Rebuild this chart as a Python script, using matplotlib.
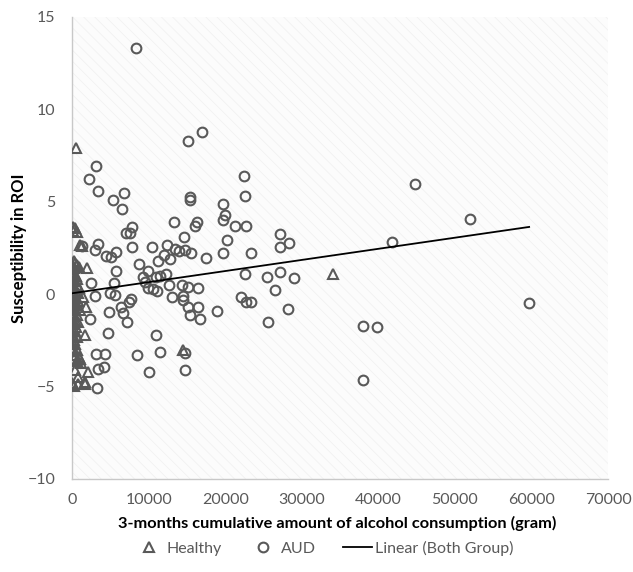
import matplotlib
matplotlib.use("Agg")
import matplotlib.pyplot as plt
from matplotlib.patches import Rectangle
from matplotlib.lines import Line2D

plt.rcParams['font.family'] = ['Lato', 'DejaVu Sans']

# Healthy group (triangles)
healthy_x = [550, 80, 400, 150, 700, 1300, 1000, 200, 400, 600, 100, 300, 900, 1990,
             50, 250, 500, 150, 700, 350, 50, 600, 200, 900, 100, 450, 750, 0, 300, 550,
             100, 800, 250, 650, 50, 400, 1000, 150, 600, 300, 0, 450, 800, 200, 550, 50,
             350, 1420, 1860, 1730, 100, 600, 250, 0, 450, 150, 700, 50, 350, 900, 200,
             600, 980, 1200, 330, 2080, 760, 1640, 0, 240, 720, 1680, 14540, 34100]
healthy_y = [7.93, 3.65, 3.6, 3.4, 3.35, 2.6, 2.65, 1.8, 1.7, 1.6, 1.5, 1.4, 1.45, 1.4,
             1.2, 1.1, 1.0, 0.9, 0.8, 0.7, 0.6, 0.5, 0.4, 0.35, 0.2, 0.15, 0.05, 0.0, -0.1, -0.2,
             -0.3, -0.35, -0.5, -0.6, -0.7, -0.8, -0.85, -1.0, -1.1, -1.2, -1.3, -1.4, -1.5, -1.6, -1.75, -1.9,
             -2.0, -0.14, -0.71, -2.21, -2.2, -2.3, -2.5, -2.6, -2.7, -2.9, -3.0, -3.1, -3.3, -3.4, -3.5,
             -3.6, -3.52, -3.74, -4.1, -4.19, -4.46, -4.73, -4.82, -4.97, -4.86, -4.86, -3.02, 1.09]

# AUD group (circles)
aud_x = [8300, 17000, 15150, 3080, 2200, 3390, 5350, 6850, 22500, 22640, 15420, 15420,
         6500, 19660, 19970, 19700, 21330, 22730, 20230, 13280, 16380, 16080, 14630,
         7900, 7550, 7020, 7900, 3390, 2990, 4490, 5050, 5710, 10390, 12400, 13450,
         13980, 14800, 15510, 12050, 12830, 11260, 17520, 19710, 23430, 27140, 28320,
         27100, 5710, 8770, 9910, 9300, 10920, 11480, 12270, 2520, 5450, 9510, 9870,
         10520, 11090, 12660, 14370, 15160, 16430, 22550, 25480, 27140, 28980, 26570,
         2950, 5010, 5580, 13060, 14540, 14460, 7770, 7460, 22020, 22770, 23390, 15120,
         16430, 15380, 16730, 18920, 28240, 25570, 6360, 6670, 7240, 4790, 2340, 4750,
         10920, 8460, 11480, 14760, 3180, 4270, 3390, 4170, 10000, 14800, 3250,
         44860, 52030, 41800, 59690, 37990, 39870, 37990, 1300]
aud_y = [13.3, 8.79, 8.29, 6.93, 6.23, 5.6, 5.1, 5.49, 6.41, 5.31, 5.28, 5.12,
         4.61, 4.88, 4.29, 4.02, 3.69, 3.69, 2.93, 3.89, 3.92, 3.71, 3.11,
         3.65, 3.29, 3.29, 2.54, 2.7, 2.39, 2.07, 2.0, 2.3, 2.54, 2.66, 2.43,
         2.34, 2.39, 2.25, 2.12, 1.89, 1.81, 1.98, 2.21, 2.25, 3.24, 2.79,
         2.54, 1.26, 1.62, 1.26, 0.91, 0.95, 1.0, 1.09, 0.59, 0.59, 0.68, 0.32,
         0.27, 0.19, 0.5, 0.5, 0.41, 0.32, 1.09, 0.95, 1.22, 0.86, 0.23,
         -0.1, 0.05, -0.04, -0.14, -0.08, -0.31, -0.24, -0.42, -0.17, -0.44, -0.44, -0.71,
         -0.68, -1.13, -1.34, -0.91, -0.78, -1.49, -0.68, -1.03, -1.49, -0.98, -1.36, -2.12,
         -2.19, -3.31, -3.14, -3.2, -3.25, -3.24, -4.05, -3.92, -4.19, -4.1, -5.06,
         5.98, 4.05, 2.84, -0.46, -1.7, -1.78, -4.64, 2.6]

# Linear trend (both groups), endpoints
trend_x = [0, 59700]
trend_y = [0.05, 3.64]

x_ticks = [0, 10000, 20000, 30000, 40000, 50000, 60000, 70000]
y_ticks = [-10, -5, 0, 5, 10, 15]

gray = '#595959'
W, H = 633, 572

fig = plt.figure(figsize=(6.33, 5.72), dpi=100)
ax = fig.add_axes([72/W, 1-479/H, (608-72)/W, (479-17)/H])
ax.set_xlim(0, 70000)
ax.set_ylim(-10, 15)

ax.set_facecolor('#fcfcfc')
plt.rcParams['hatch.linewidth'] = 0.5
bg = Rectangle((0, 0), 1, 1, transform=ax.transAxes, facecolor='none',
               edgecolor='#f0f0f0', hatch='\\\\\\', linewidth=0, zorder=0)
ax.add_patch(bg)

ax.plot(healthy_x, healthy_y, linestyle='none', marker='^', markersize=6.5,
        markerfacecolor='none', markeredgecolor=gray, markeredgewidth=1.5, zorder=3)
ax.plot(aud_x, aud_y, linestyle='none', marker='o', markersize=7,
        markerfacecolor='none', markeredgecolor=gray, markeredgewidth=1.5, zorder=3)
ax.plot(trend_x, trend_y, color='black', linewidth=1.3, zorder=4)

ax.set_xticks(x_ticks)
ax.set_yticks(y_ticks)
ax.tick_params(axis='both', length=0, labelsize=11.5, labelcolor=gray)
ax.tick_params(axis='x', pad=10)
ax.tick_params(axis='y', pad=12)
for s in ['top', 'right']:
    ax.spines[s].set_visible(False)
for s in ['left', 'bottom']:
    ax.spines[s].set_color('#c8c8c8')
    ax.spines[s].set_linewidth(1.0)

fig.text(337/W, 1-523/H, '3-months cumulative amount of alcohol consumption (gram)',
         fontsize=11.8, fontweight='bold', color='black', ha='center', va='center')
fig.text(19/W, 1-248/H, 'Susceptibility in ROI', fontsize=12, fontweight='bold',
         color='black', ha='center', va='center', rotation=90)

handles = [
    Line2D([], [], linestyle='none', marker='^', markersize=6.5, markerfacecolor='none',
           markeredgecolor=gray, markeredgewidth=1.5, label='Healthy'),
    Line2D([], [], linestyle='none', marker='o', markersize=7, markerfacecolor='none',
           markeredgecolor=gray, markeredgewidth=1.5, label='AUD'),
    Line2D([], [], color='black', linewidth=1.3, label='Linear (Both Group)'),
]
leg = fig.legend(handles=handles, loc='center', bbox_to_anchor=(324/W, 1-548/H),
                 ncol=3, frameon=False, fontsize=11.5, handlelength=1.8,
                 handletextpad=0.2, columnspacing=1.7)
for t in leg.get_texts():
    t.set_color(gray)

fig.savefig('out.png', dpi=100)
